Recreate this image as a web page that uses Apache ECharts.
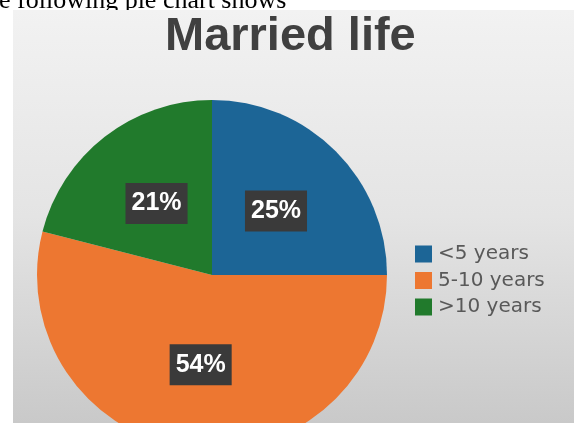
<!DOCTYPE html>
<html>
<head>
<meta charset="utf-8">
<script src="https://cdn.jsdelivr.net/npm/echarts@6/dist/echarts.min.js"></script>
<style>
html,body{margin:0;padding:0;background:#fff;}
#chart{width:574px;height:423px;}
</style>
</head>
<body>
<div id="chart"></div>
<script>
var titleText = 'Married life';
var captionText = 'e following pie chart shows';
var categories = ['<5 years', '5-10 years', '>10 years'];
var values = [25, 54, 21];
var colors = ['#1c6596', '#ed7731', '#217a2c'];

var chart = echarts.init(document.getElementById('chart'), null, {renderer: 'canvas'});
var option = {
  animation: false,
  backgroundColor: 'transparent',
  color: colors,
  graphic: [
    {
      type: 'text', z: -20, silent: true,
      style: {x: -1, y: 1, text: captionText, font: '26px "Liberation Serif", "Times New Roman", serif', fill: '#000', verticalAlign: 'middle', align: 'left'}
    },
    {
      type: 'rect', z: -10, silent: true,
      shape: {x: 13, y: 10, width: 561, height: 413},
      style: {fill: new echarts.graphic.LinearGradient(0, 0, 0, 1, [
        {offset: 0, color: '#f2f2f2'},
        {offset: 0.5, color: '#e4e4e4'},
        {offset: 1, color: '#c9c9c9'}
      ])}
    }
  ],
  title: {
    text: titleText,
    left: 165, top: 14, padding: 0,
    textStyle: {fontFamily: '"Liberation Sans", Arial, sans-serif', fontWeight: 'bold', fontSize: 47, color: '#404040'}
  },
  legend: {
    orient: 'vertical',
    left: 415, top: 244, padding: 0,
    icon: 'rect', itemWidth: 17, itemHeight: 17, itemGap: 6.5,
    data: categories,
    textStyle: {fontFamily: '"DejaVu Sans", Verdana, sans-serif', fontSize: 20, lineHeight: 20, color: '#595959', padding: [0, 0, 0, 1]}
  },
  series: [{
    type: 'pie',
    center: [212, 275],
    radius: 175,
    startAngle: 90,
    clockwise: true,
    avoidLabelOverlap: false,
    emphasis: {disabled: true},
    label: {
      show: true, position: 'inside',
      formatter: '{c}%',
      color: '#fff', fontFamily: '"Liberation Sans", Arial, sans-serif', fontWeight: 'bold', fontSize: 25, lineHeight: 25,
      backgroundColor: '#3a3a3a', padding: [8, 6, 8, 6]
    },
    labelLine: {show: false},
    data: categories.map(function (c, i) { return {name: c, value: values[i]}; })
  }]
};
chart.setOption(option);
</script>
</body>
</html>
